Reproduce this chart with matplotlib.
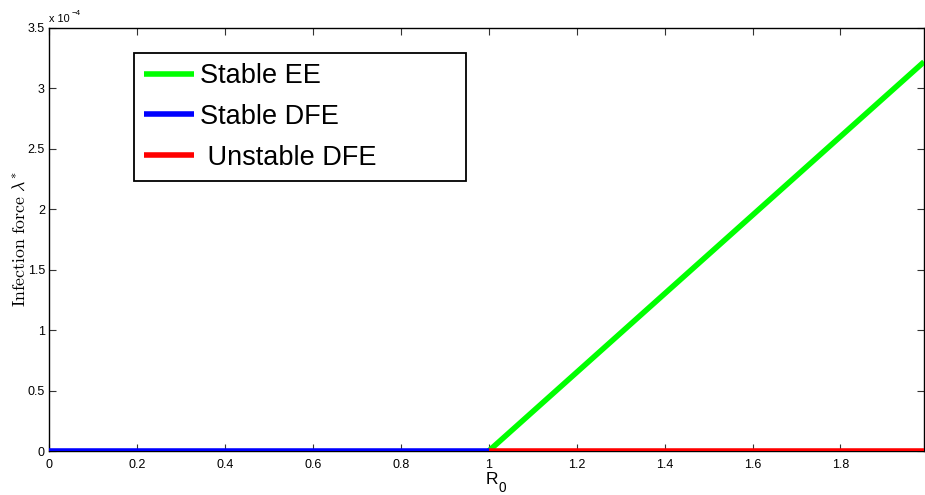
import matplotlib
matplotlib.use("Agg")
import matplotlib.pyplot as plt
from matplotlib.ticker import FuncFormatter

plt.rcParams['font.family'] = ['Liberation Sans', 'DejaVu Sans']
plt.rcParams['mathtext.fontset'] = 'cm'

# data
r0_dfe_stable = [0.0, 1.0]
lam_dfe_stable = [0.0, 0.0]
r0_dfe_unstable = [1.0, 1.99]
lam_dfe_unstable = [0.0, 0.0]
r0_ee = [1.0, 1.99]
lam_ee = [0.0, 3.22e-4]

labels = ['Stable EE', 'Stable DFE', ' Unstable DFE']
xticks = [0, 0.2, 0.4, 0.6, 0.8, 1.0, 1.2, 1.4, 1.6, 1.8]
yticks = [0, 0.5e-4, 1e-4, 1.5e-4, 2e-4, 2.5e-4, 3e-4, 3.5e-4]

W, H = 925, 495
fig = plt.figure(figsize=(W / 100, H / 100), dpi=100)
ax = fig.add_axes([49 / W, 1 - 451 / H, (924 - 49) / W, (451 - 28) / H])

lw = 4
l1, = ax.plot(r0_ee, lam_ee, color=(0, 1, 0), lw=lw, solid_capstyle='butt', zorder=3)
l2, = ax.plot(r0_dfe_stable, lam_dfe_stable, color=(0, 0, 1), lw=lw, solid_capstyle='butt', zorder=3)
l3, = ax.plot(r0_dfe_unstable, lam_dfe_unstable, color=(1, 0, 0), lw=lw, solid_capstyle='butt', zorder=3)

ax.set_xlim(0, 1.99)
ax.set_ylim(0, 3.5e-4)
ax.set_xticks(xticks)
ax.set_yticks(yticks)
ax.xaxis.set_major_formatter(FuncFormatter(lambda v, p: '%g' % round(v, 4)))
ax.yaxis.set_major_formatter(FuncFormatter(lambda v, p: '%g' % round(v * 1e4, 4)))
ax.tick_params(direction='in', length=5, width=0.8, labelsize=9, top=True, right=True,
               color='#333333')
ax.tick_params(axis='x', pad=6)
ax.tick_params(axis='y', pad=3)
for s in ax.spines.values():
    s.set_linewidth(1.0)

# x label: R with a sans-serif subscript 0
fig.text(486 / W, 1 - 483.5 / H, 'R', fontsize=12.5, ha='left', va='baseline')
fig.text(498.5 / W, 1 - 494.5 / H, '0', fontsize=9.8, ha='left', va='bottom')
ax.set_ylabel(r'$\mathrm{Infection\ force}\ \lambda^{*}$', fontsize=12.8, labelpad=-1)

# axis multiplier
fig.text(49 / W, 1 - 22 / H, 'x 10', fontsize=7.8, ha='left', va='baseline')
fig.text(72 / W, 1 - 15 / H, '\u22124', fontsize=5.8, ha='left', va='baseline')

x0, x1 = 134 / W, 466 / W
y0, y1 = 1 - 180 / H, 1 - 53 / H
leg = fig.legend([l1, l2, l3], labels, loc='upper left',
                 bbox_to_anchor=(x0, y0, x1 - x0, y1 - y0), bbox_transform=fig.transFigure,
                 mode='expand', borderaxespad=0, fontsize=19.5, handlelength=1.85,
                 handletextpad=0.22, borderpad=0.38, labelspacing=0.54, fancybox=False,
                 framealpha=1, edgecolor='black')
leg.get_frame().set_linewidth(1.3)

fig.savefig('out.png', dpi=100)
